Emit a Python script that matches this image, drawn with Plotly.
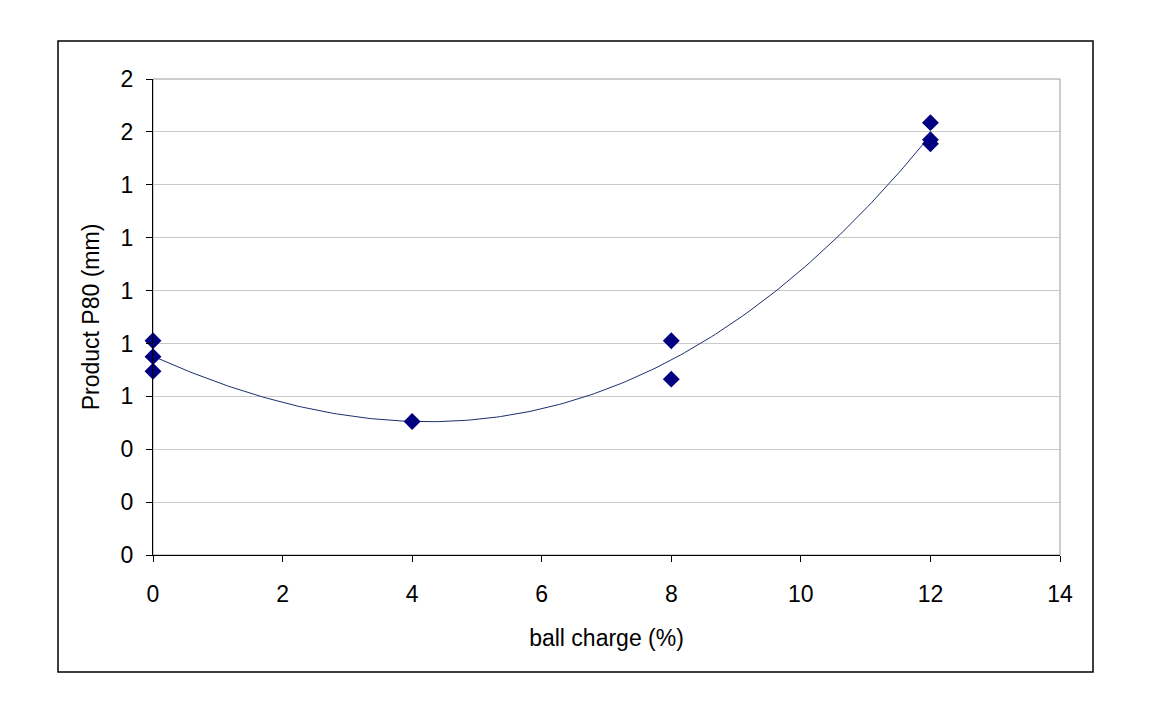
import numpy as np
import plotly.graph_objects as go

# Data
ball_charge = [0, 0, 0, 4, 8, 8, 12, 12, 12]
p80_mm = [0.81, 0.75, 0.695, 0.505, 0.81, 0.665, 1.635, 1.57, 1.555]

x_ticks = [0, 2, 4, 6, 8, 10, 12, 14]
y_ticks = [0.0, 0.2, 0.4, 0.6, 0.8, 1.0, 1.2, 1.4, 1.6, 1.8]
y_tick_labels = ["0", "0", "0", "1", "1", "1", "1", "1", "2", "2"]

# Polynomial trendline fitted to the data (as in the spreadsheet chart)
coef = np.polyfit(ball_charge, p80_mm, 3)
xt = np.linspace(min(ball_charge), max(ball_charge), 200)
yt = np.polyval(coef, xt)

FONT = "Liberation Sans, Arial, sans-serif"

fig = go.Figure()
fig.add_trace(go.Scatter(x=xt, y=yt, mode="lines",
                         line=dict(color="#1c2f6e", width=1),
                         hoverinfo="skip", showlegend=False))
fig.add_trace(go.Scatter(x=ball_charge, y=p80_mm, mode="markers",
                         marker=dict(symbol="diamond", size=13, color="#000080",
                                     line=dict(width=0)),
                         showlegend=False, cliponaxis=False))

L, R, T, B = 153, 93, 79, 150
W, H = 1153, 705
pw, ph = W - L - R, H - T - B

def px(xpix):
    return (xpix - L) / pw

def py(ypix):
    return (H - B - ypix) / ph

fig.update_layout(
    width=W, height=H,
    margin=dict(l=L, r=R, t=T, b=B),
    paper_bgcolor="white", plot_bgcolor="white",
    font=dict(family=FONT, size=23, color="black"),
    xaxis=dict(range=[0, 14], tickvals=x_ticks, ticks="outside", ticklen=6,
               tickcolor="black", showline=True, linecolor="black", linewidth=1,
               showgrid=False, zeroline=False,
               title=dict(text="ball charge (%)", standoff=24,
                          font=dict(size=23)),
               ticklabelstandoff=12),
    yaxis=dict(range=[0, 1.8], tickvals=y_ticks, ticktext=y_tick_labels,
               ticks="outside", ticklen=6, tickcolor="black",
               showline=True, linecolor="black", linewidth=1,
               showgrid=True, gridcolor="#c8c8c8", gridwidth=1, zeroline=False,
               title=dict(text="Product P80 (mm)", standoff=14,
                          font=dict(size=23)),
               ticklabelstandoff=8),
    shapes=[
        dict(type="rect", xref="paper", yref="paper", x0=0, y0=0, x1=1, y1=1,
             line=dict(color="#9a9a9a", width=1), layer="below"),
        dict(type="rect", xref="paper", yref="paper",
             x0=px(58), x1=px(1093), y0=py(672), y1=py(41),
             line=dict(color="black", width=1.5), layer="below"),
    ],
)

fig.write_html("out.html")
